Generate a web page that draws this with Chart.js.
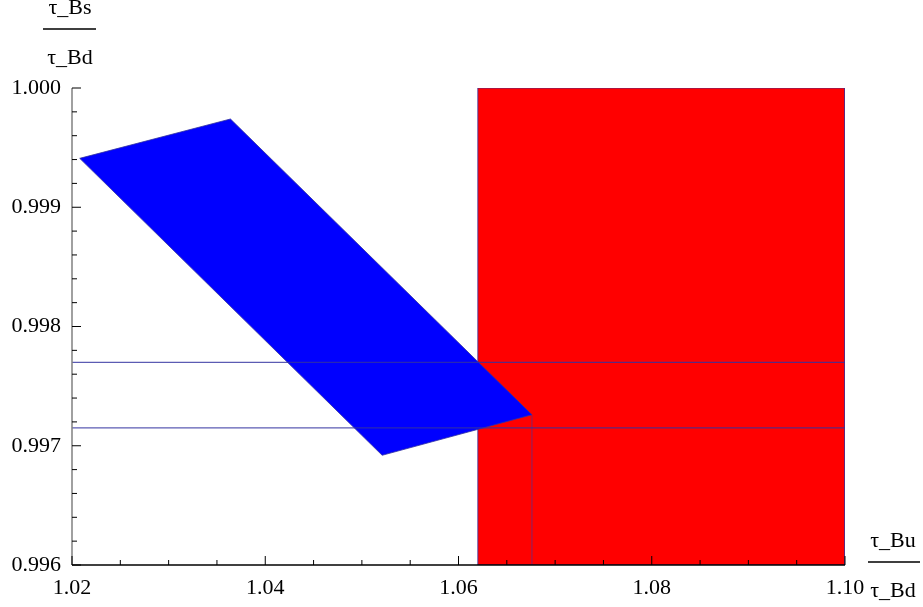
<!DOCTYPE html>
<html>
<head>
<meta charset="utf-8">
<script src="https://cdn.jsdelivr.net/npm/chart.js@4.4.0/dist/chart.umd.min.js"></script>
<style>
  html, body { margin: 0; padding: 0; background: #fff; }
  #wrap { width: 923px; height: 607px; }
</style>
</head>
<body>
<div id="wrap"><canvas id="plot" width="923" height="607"></canvas></div>
<script>
// axis ranges and tick labels
const xTicks = [1.02, 1.04, 1.06, 1.08, 1.10];
const yTicks = [0.996, 0.997, 0.998, 0.999, 1.000];

// blue allowed region (tau_Bs/tau_Bd vs tau_Bu/tau_Bd)
const blueX = [1.0208, 1.0364, 1.0676, 1.0521, 1.0208];
const blueY = [0.99941, 0.99974, 0.99726, 0.99692, 0.99941];

// red band
const redX = [1.0620, 1.0620, 1.1000, 1.1000, 1.0620];
const redY = [0.9960, 1.0000, 1.0000, 0.9960, 0.9960];

// horizontal bounds
const hLines = [0.99770, 0.99715];

// thin vertical mark inside red region
const vLineX = [1.0676, 1.0676];
const vLineY = [0.9960, 0.99726];

const toPts = (xs, ys) => xs.map((x, i) => ({x: x, y: ys[i]}));
const edge = "rgba(50, 50, 160, 0.8)";

function axesPlugin() {
    return {
        id: "axesPlugin",
        afterDraw: (chart) => {
            const ctx = chart.ctx;
            const xs = chart.scales.x;
            const ys = chart.scales.y;
            const a = chart.chartArea;
            ctx.save();

            // axes lines
            ctx.lineWidth = 1.5;
            ctx.strokeStyle = "#808080";
            ctx.beginPath();
            ctx.moveTo(a.left, a.top);
            ctx.lineTo(a.left, a.bottom);
            ctx.stroke();
            ctx.strokeStyle = "#000";
            ctx.beginPath();
            ctx.moveTo(a.left, a.bottom);
            ctx.lineTo(a.right, a.bottom);
            ctx.stroke();

            // ticks, pointing inward
            ctx.lineWidth = 1;
            ctx.strokeStyle = "#000";
            ctx.beginPath();
            for (let i = 0; i <= 20; i++) {
                const v = yTicks[0] + i * 0.0002;
                const py = ys.getPixelForValue(v);
                const len = i % 5 === 0 ? 9 : 5;
                ctx.moveTo(a.left, py);
                ctx.lineTo(a.left + len, py);
            }
            for (let i = 0; i <= 16; i++) {
                const v = xTicks[0] + i * 0.005;
                const px = xs.getPixelForValue(v);
                const len = i % 4 === 0 ? 9 : 5;
                ctx.moveTo(px, a.bottom);
                ctx.lineTo(px, a.bottom - len);
            }
            ctx.stroke();

            // fraction axis labels
            ctx.fillStyle = "#000";
            ctx.font = "22px 'Liberation Serif'";
            ctx.textAlign = "center";
            ctx.textBaseline = "alphabetic";
            ctx.fillText("τ_Bs", 70, 14);
            ctx.fillText("τ_Bd", 70, 64);
            ctx.fillText("τ_Bu", 893, 547);
            ctx.fillText("τ_Bd", 893, 597);
            ctx.lineWidth = 1.5;
            ctx.beginPath();
            ctx.moveTo(43, 29);
            ctx.lineTo(96, 29);
            ctx.moveTo(868, 562);
            ctx.lineTo(920, 562);
            ctx.stroke();

            ctx.restore();
        }
    };
}

const datasets = [
    {
        data: toPts(redX, redY),
        showLine: true,
        fill: "shape",
        backgroundColor: "#ff0000",
        borderColor: edge,
        borderWidth: 1,
        pointRadius: 0,
        order: 4
    },
    {
        data: toPts(vLineX, vLineY),
        showLine: true,
        fill: false,
        borderColor: "rgba(80, 50, 150, 0.7)",
        borderWidth: 1,
        pointRadius: 0,
        order: 3
    },
    {
        data: toPts(blueX, blueY),
        showLine: true,
        fill: "shape",
        backgroundColor: "#0000ff",
        borderColor: edge,
        borderWidth: 1,
        pointRadius: 0,
        order: 2
    }
];

hLines.forEach((h) => {
    datasets.push({
        data: toPts([xTicks[0], xTicks[xTicks.length - 1]], [h, h]),
        showLine: true,
        fill: false,
        borderColor: edge,
        borderWidth: 1.2,
        pointRadius: 0,
        order: 1
    });
});

const ctx = document.getElementById("plot").getContext("2d");
const chart = new Chart(ctx, {
    type: "scatter",
    data: {datasets: datasets},
    options: {
        responsive: false,
        animation: false,
        events: [],
        layout: {padding: {left: 0, top: 88, right: 78, bottom: 0}},
        plugins: {legend: {display: false}, tooltip: {enabled: false}},
        elements: {line: {tension: 0}},
        scales: {
            x: {
                type: "linear",
                min: xTicks[0],
                max: xTicks[xTicks.length - 1],
                grid: {display: false, drawTicks: false},
                border: {display: false},
                afterBuildTicks: (s) => { s.ticks = xTicks.map(v => ({value: v})); },
                afterFit: (s) => { s.height = 42; },
                ticks: {
                    padding: 10,
                    maxRotation: 0,
                    autoSkip: false,
                    color: "#000",
                    font: {family: "'Liberation Serif'", size: 22},
                    callback: (v) => Number(v).toFixed(2)
                }
            },
            y: {
                type: "linear",
                min: yTicks[0],
                max: yTicks[yTicks.length - 1],
                grid: {display: false, drawTicks: false},
                border: {display: false},
                afterBuildTicks: (s) => { s.ticks = yTicks.map(v => ({value: v})); },
                afterFit: (s) => { s.width = 72; },
                ticks: {
                    padding: 11,
                    autoSkip: false,
                    color: "#000",
                    font: {family: "'Liberation Serif'", size: 22},
                    callback: (v) => Number(v).toFixed(3)
                }
            }
        }
    },
    plugins: [axesPlugin()]
});
</script>
</body>
</html>
